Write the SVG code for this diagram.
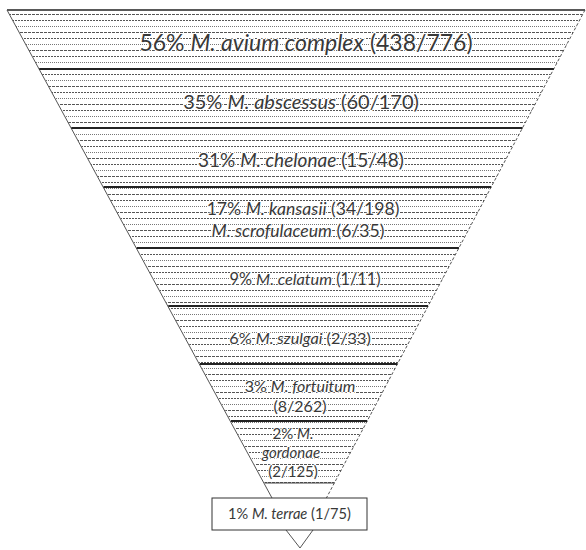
<svg xmlns="http://www.w3.org/2000/svg" width="586" height="550" viewBox="0 0 586 550">
<style>
.t{font-family:Lato,"Liberation Sans",sans-serif;fill:#383838;text-anchor:middle;stroke:#fff;stroke-width:2;paint-order:stroke;stroke-linejoin:round}
.div{stroke:#222;stroke-width:2}
.band{fill:url(#tex);stroke:none}
</style>
<defs>
<pattern id="tex" patternUnits="userSpaceOnUse" width="60" height="18">
<line x1="0" y1="2.5" x2="60" y2="2.5" stroke="#555" stroke-width="1" stroke-dasharray="2 1"/>
<line x1="0" y1="8.5" x2="60" y2="8.5" stroke="#777" stroke-width="1" stroke-dasharray="1 1"/>
<line x1="0" y1="14.5" x2="60" y2="14.5" stroke="#555" stroke-width="1" stroke-dasharray="3 1"/>
</pattern>
</defs>
<rect width="586" height="550" fill="#fff"/>
<g id="band1">
<polygon class="band" points="7,10 585,10 553.7,69 39.2,69"/>
<text class="t" x="306" y="51" font-size="23">56% <tspan font-style="italic">M. avium complex</tspan> (438/776)</text>
</g>
<g id="band2">
<polygon class="band" points="39.2,69 553.7,69 522.5,128 71.3,128"/>
<text class="t" x="301" y="109" font-size="20">35% <tspan font-style="italic">M. abscessus</tspan> (60/170)</text>
</g>
<g id="band3">
<polygon class="band" points="71.3,128 522.5,128 491.2,187 103.5,187"/>
<text class="t" x="301" y="167" font-size="19">31% <tspan font-style="italic">M. chelonae</tspan> (15/48)</text>
</g>
<g id="band4">
<polygon class="band" points="103.5,187 491.2,187 458.9,248 136.7,248"/>
<text class="t" x="303" y="215" font-size="17.6">17% <tspan font-style="italic">M. kansasii</tspan> (34/198)</text>
<text class="t" x="298" y="237" font-size="17.6"><tspan font-style="italic">M. scrofulaceum</tspan> (6/35)</text>
</g>
<g id="band5">
<polygon class="band" points="136.7,248 458.9,248 428.1,306 168.3,306"/>
<text class="t" x="305" y="285" font-size="16.3">9% <tspan font-style="italic">M. celatum</tspan> (1/11)</text>
</g>
<g id="band6">
<polygon class="band" points="168.3,306 428.1,306 397.4,364 199.9,364"/>
<text class="t" x="300" y="344" font-size="16.2">6% <tspan font-style="italic">M. szulgai</tspan> (2/33)</text>
</g>
<g id="band7">
<polygon class="band" points="199.9,364 397.4,364 367.2,421 231,421"/>
<text class="t" x="300" y="392" font-size="16">3% <tspan font-style="italic">M. fortuitum</tspan></text>
<text class="t" x="300" y="412" font-size="16">(8/262)</text>
</g>
<g id="band8">
<polygon class="band" points="231,421 367.2,421 334.3,483 264.8,483"/>
<text class="t" x="293" y="439" font-size="15">2% <tspan font-style="italic">M.</tspan></text>
<text class="t" x="291" y="458" font-size="15" font-style="italic">gordonae</text>
<text class="t" x="293" y="477" font-size="15">(2/125)</text>
</g>
<g id="connectors">
<line x1="7" y1="10" x2="585" y2="10" stroke="#222" stroke-width="1.5"/>
<line x1="7" y1="10" x2="272" y2="498" stroke="#555" stroke-width="1"/>
<line x1="585" y1="10" x2="326.4" y2="498" stroke="#555" stroke-width="1" stroke-dasharray="3 2"/>
<line class="div" x1="39.2" y1="69" x2="553.7" y2="69"/>
<line class="div" x1="71.3" y1="128" x2="522.5" y2="128"/>
<line class="div" x1="103.5" y1="187" x2="491.2" y2="187"/>
<line class="div" x1="136.7" y1="248" x2="458.9" y2="248"/>
<line class="div" x1="168.3" y1="306" x2="428.1" y2="306"/>
<line class="div" x1="199.9" y1="364" x2="397.4" y2="364"/>
<line class="div" x1="231" y1="421" x2="367.2" y2="421"/>
<line x1="264.8" y1="483" x2="334.3" y2="483" stroke="#444" stroke-width="1"/>
<polyline points="286,530 300,548 313,530" fill="none" stroke="#555" stroke-width="1"/>
</g>
<g id="box">
<rect x="212" y="498" width="155" height="32" fill="#fff" stroke="#333" stroke-width="1"/>
<text class="t" x="289.5" y="519" font-size="14.6">1% <tspan font-style="italic">M. terrae</tspan> (1/75)</text>
</g>
</svg>
